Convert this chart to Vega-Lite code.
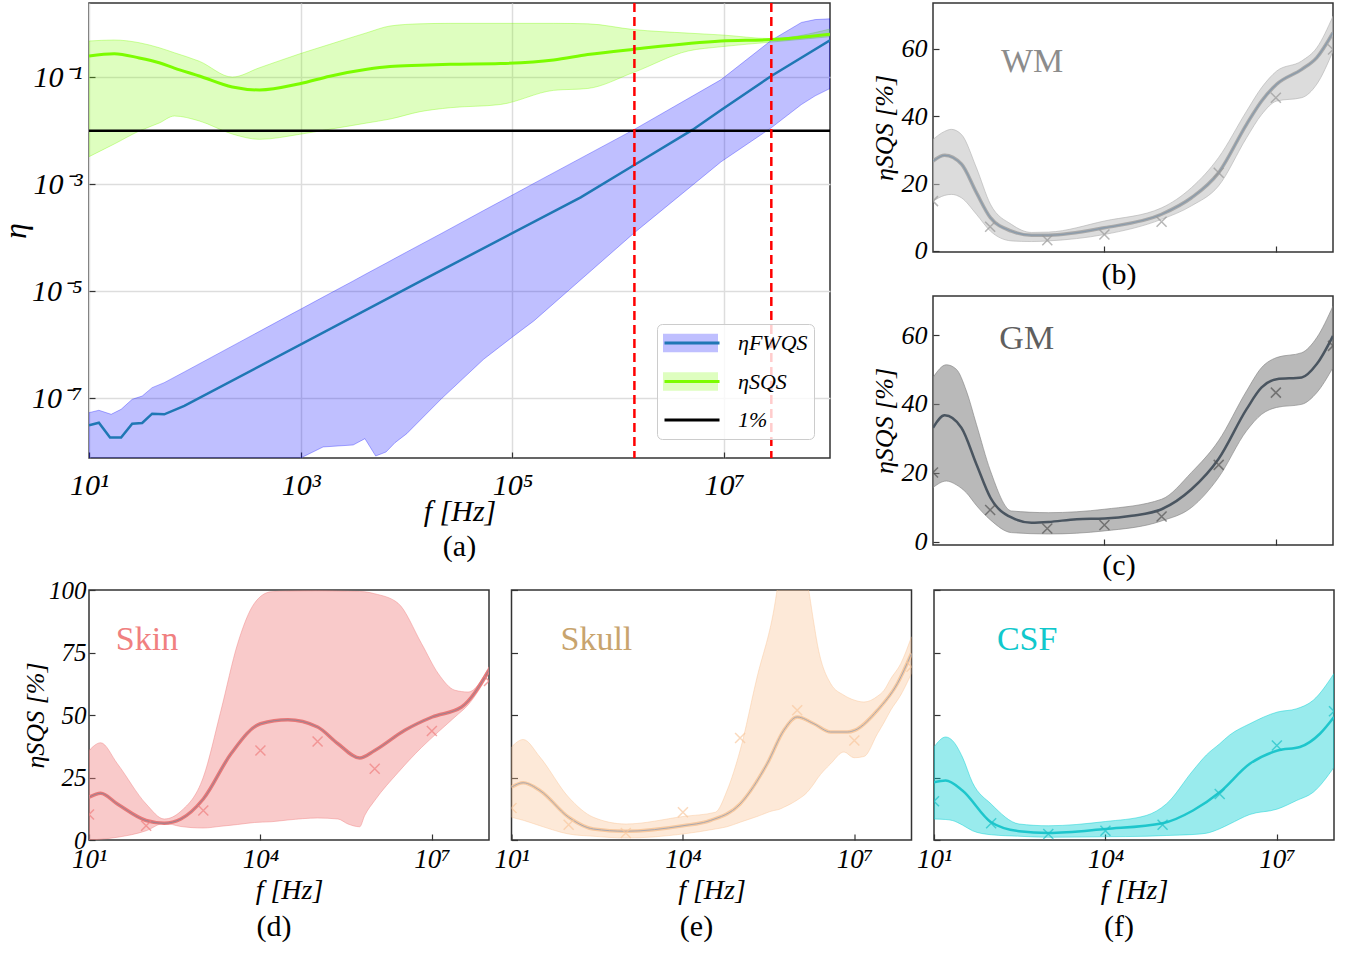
{
  "$schema": "https://vega.github.io/schema/vega-lite/v6.json",
  "padding": {"left": -2, "top": 1, "right": 5, "bottom": 5},
  "background": "white",
  "datasets": {
    "aSqsBand": [
      {"f": 10, "lo": 0.00328, "hi": 0.477}, {"f": 17.3, "lo": 0.00566, "hi": 0.498}, {"f": 29.8, "lo": 0.0099, "hi": 0.443},
      {"f": 46.1, "lo": 0.014, "hi": 0.357}, {"f": 64, "lo": 0.0189, "hi": 0.288}, {"f": 110, "lo": 0.0153, "hi": 0.2},
      {"f": 226, "lo": 0.0087, "hi": 0.101}, {"f": 408, "lo": 0.00693, "hi": 0.151}, {"f": 980, "lo": 0.0086, "hi": 0.275},
      {"f": 1884, "lo": 0.0107, "hi": 0.414}, {"f": 4227, "lo": 0.014, "hi": 0.682}, {"f": 6982, "lo": 0.0166, "hi": 0.91},
      {"f": 13430, "lo": 0.0228, "hi": 1.0}, {"f": 25820, "lo": 0.027, "hi": 1.02}, {"f": 76900, "lo": 0.031, "hi": 1.02},
      {"f": 244900, "lo": 0.057, "hi": 1.02}, {"f": 514000, "lo": 0.0618, "hi": 1.0}, {"f": 1403000, "lo": 0.124, "hi": 0.78},
      {"f": 4560000, "lo": 0.31, "hi": 0.67}, {"f": 9380000, "lo": 0.373, "hi": 0.62}, {"f": 27860000, "lo": 0.455, "hi": 0.53},
      {"f": 100000000, "lo": 0.574, "hi": 0.8}
    ],
    "aSqsMean": [
      {"f": 10, "m": 0.25}, {"f": 17.3, "m": 0.276}, {"f": 29.8, "m": 0.23}, {"f": 46.1, "m": 0.187}, {"f": 64, "m": 0.149},
      {"f": 110, "m": 0.106}, {"f": 226, "m": 0.066}, {"f": 408, "m": 0.058}, {"f": 980, "m": 0.076}, {"f": 1884, "m": 0.105},
      {"f": 4227, "m": 0.141}, {"f": 6982, "m": 0.159}, {"f": 13430, "m": 0.168}, {"f": 25820, "m": 0.175}, {"f": 76900, "m": 0.181},
      {"f": 244900, "m": 0.211}, {"f": 514000, "m": 0.266}, {"f": 1403000, "m": 0.335}, {"f": 9380000, "m": 0.478},
      {"f": 27860000, "m": 0.507}, {"f": 100000000, "m": 0.64}
    ],
    "aFwqsBand": [
      {"f": 10, "lo": 1e-9, "hi": 5.38e-8}, {"f": 12.4, "lo": 1e-9, "hi": 5.97e-8}, {"f": 16.2, "lo": 1e-9, "hi": 5.02e-8},
      {"f": 20.1, "lo": 1e-9, "hi": 6.22e-8}, {"f": 25.6, "lo": 1e-9, "hi": 9.57e-8}, {"f": 31.8, "lo": 1e-9, "hi": 1.1e-7},
      {"f": 39.5, "lo": 1e-9, "hi": 1.58e-7}, {"f": 51.4, "lo": 1e-9, "hi": 1.96e-7}, {"f": 79.5, "lo": 1e-9, "hi": 3.11e-7},
      {"f": 264, "lo": 1e-9, "hi": 1.12e-6}, {"f": 877, "lo": 6.2e-9, "hi": 4.04e-6}, {"f": 1015, "lo": 7.76e-9, "hi": 4.71e-6},
      {"f": 1627, "lo": 1.23e-8, "hi": 7.8e-6}, {"f": 3131, "lo": 1.34e-8, "hi": 1.56e-5}, {"f": 4043, "lo": 1.76e-8, "hi": 2.06e-5},
      {"f": 5105, "lo": 8.34e-9, "hi": 2.64e-5}, {"f": 6393, "lo": 9.9e-9, "hi": 3.35e-5}, {"f": 7780, "lo": 1.48e-8, "hi": 4.14e-5},
      {"f": 10040, "lo": 2.18e-8, "hi": 5.43e-5}, {"f": 21560, "lo": 1e-7, "hi": 1.22e-4}, {"f": 53460, "lo": 5.36e-7, "hi": 3.24e-4},
      {"f": 102900, "lo": 1.46e-6, "hi": 6.5e-4}, {"f": 159200, "lo": 2.79e-6, "hi": 1.04e-3}, {"f": 1403000, "lo": 1.22e-4, "hi": 0.0105},
      {"f": 9370000, "lo": 2.64e-3, "hi": 0.0906}, {"f": 27890000, "lo": 0.0114, "hi": 0.492}, {"f": 53700000, "lo": 0.031, "hi": 1.06},
      {"f": 72400000, "lo": 0.045, "hi": 1.2}, {"f": 100000000, "lo": 0.0618, "hi": 1.24}
    ],
    "aFwqsMean": [
      {"f": 10, "m": 3.13e-8}, {"f": 12.4, "m": 3.5e-8}, {"f": 15.8, "m": 1.84e-8}, {"f": 20.1, "m": 1.84e-8}, {"f": 25.6, "m": 3.35e-8},
      {"f": 31.8, "m": 3.45e-8}, {"f": 39.5, "m": 5.15e-8}, {"f": 51.4, "m": 5.02e-8}, {"f": 79.5, "m": 7.18e-8}, {"f": 13430, "m": 1.53e-5},
      {"f": 441600, "m": 5.69e-4}, {"f": 1403000, "m": 2.27e-3}, {"f": 5050000, "m": 0.0105}, {"f": 9370000, "m": 0.0245},
      {"f": 27890000, "m": 0.106}, {"f": 100000000, "m": 0.492}
    ],
    "aThreshold": [{"eta": 0.01}],
    "aCutoffs": [{"f": 1420000}, {"f": 27900000}],
    "wmBand": [
      {"f": 10, "lo": 14.8, "hi": 33.1}, {"f": 16, "lo": 16.5, "hi": 35.5}, {"f": 20.9, "lo": 16.8, "hi": 36.1}, {"f": 31.4, "lo": 15.8, "hi": 34.6},
      {"f": 57.5, "lo": 10.9, "hi": 24.7}, {"f": 101, "lo": 5.9, "hi": 13.9}, {"f": 236, "lo": 3.0, "hi": 7.9}, {"f": 530, "lo": 2.8, "hi": 5.5},
      {"f": 1054, "lo": 3.0, "hi": 5.6}, {"f": 10000, "lo": 4.9, "hi": 8.9}, {"f": 100000, "lo": 9.4, "hi": 12.8}, {"f": 333300, "lo": 13.4, "hi": 18.8},
      {"f": 992000, "lo": 19.3, "hi": 27.7}, {"f": 3073000, "lo": 33.6, "hi": 41.5}, {"f": 5635000, "lo": 40.5, "hi": 48.5},
      {"f": 10330000, "lo": 44.5, "hi": 53.4}, {"f": 28360000, "lo": 45.5, "hi": 56.4}, {"f": 52000000, "lo": 49.5, "hi": 60.3},
      {"f": 100000000, "lo": 59.3, "hi": 69.7}
    ],
    "wmMean": [
      {"f": 10, "m": 26.7}, {"f": 16, "m": 28.4}, {"f": 31.4, "m": 25.8}, {"f": 57.5, "m": 17.3}, {"f": 101, "m": 9.9}, {"f": 236, "m": 5.9},
      {"f": 530, "m": 4.7}, {"f": 1054, "m": 4.7}, {"f": 10000, "m": 6.9}, {"f": 100000, "m": 10.9}, {"f": 333300, "m": 15.8},
      {"f": 992000, "m": 23.2}, {"f": 3073000, "m": 37.6}, {"f": 5635000, "m": 44.5}, {"f": 10330000, "m": 49.5}, {"f": 28360000, "m": 53.9},
      {"f": 52000000, "m": 57.4}, {"f": 100000000, "m": 64.8}
    ],
    "wmPts": [
      {"f": 10, "v": 14.8}, {"f": 100, "v": 7.2}, {"f": 1000, "v": 3.2}, {"f": 10000, "v": 4.9}, {"f": 100000, "v": 8.7},
      {"f": 1000000, "v": 23.2}, {"f": 10000000, "v": 45.5}, {"f": 100000000, "v": 59.8}
    ],
    "gmBand": [
      {"f": 10, "lo": 15.7, "hi": 47.7}, {"f": 17.1, "lo": 17.6, "hi": 51.4}, {"f": 25.6, "lo": 16.5, "hi": 50.1}, {"f": 38.4, "lo": 14.2, "hi": 43.8},
      {"f": 57.5, "lo": 10.5, "hi": 34.1}, {"f": 101, "lo": 6.3, "hi": 20.6}, {"f": 236, "lo": 2.6, "hi": 8.9}, {"f": 1054, "lo": 2.2, "hi": 8.4},
      {"f": 10000, "lo": 3.1, "hi": 9.4}, {"f": 100000, "lo": 6.0, "hi": 12.3}, {"f": 333300, "lo": 9.9, "hi": 20.1}, {"f": 992000, "lo": 18.6, "hi": 29.3},
      {"f": 3073000, "lo": 32.2, "hi": 43.8}, {"f": 5635000, "lo": 37.0, "hi": 50.6}, {"f": 10330000, "lo": 39.0, "hi": 53.5},
      {"f": 28360000, "lo": 39.9, "hi": 54.9}, {"f": 52000000, "lo": 43.3, "hi": 59.3}, {"f": 100000000, "lo": 50.6, "hi": 68.5}
    ],
    "gmMean": [
      {"f": 10, "m": 33.1}, {"f": 16, "m": 36.7}, {"f": 31.4, "m": 33.1}, {"f": 57.5, "m": 22.5}, {"f": 101, "m": 12.8}, {"f": 236, "m": 7.0},
      {"f": 530, "m": 5.5}, {"f": 1054, "m": 5.7}, {"f": 3266, "m": 6.5}, {"f": 10000, "m": 6.7}, {"f": 30120, "m": 7.5}, {"f": 100000, "m": 9.4},
      {"f": 333300, "m": 15.2}, {"f": 992000, "m": 24.0}, {"f": 3073000, "m": 38.5}, {"f": 5635000, "m": 44.8}, {"f": 10330000, "m": 47.2},
      {"f": 28360000, "m": 47.7}, {"f": 52000000, "m": 51.6}, {"f": 100000000, "m": 59.8}
    ],
    "gmPts": [
      {"f": 10, "v": 20.1}, {"f": 100, "v": 9.2}, {"f": 1000, "v": 3.8}, {"f": 10000, "v": 4.8}, {"f": 100000, "v": 7.3},
      {"f": 1000000, "v": 22.3}, {"f": 10000000, "v": 43.3}, {"f": 100000000, "v": 56.9}
    ],
    "skinBand": [
      {"f": 10, "lo": 0, "hi": 35.8}, {"f": 16, "lo": 0.3, "hi": 38.9}, {"f": 31.4, "lo": 1.1, "hi": 30.5}, {"f": 100, "lo": 3.7, "hi": 14.4},
      {"f": 207, "lo": 6.7, "hi": 8.4}, {"f": 405, "lo": 5.4, "hi": 11.5}, {"f": 1000, "lo": 4.8, "hi": 25.1}, {"f": 2042, "lo": 5.5, "hi": 51.9},
      {"f": 4000, "lo": 6.2, "hi": 78.6}, {"f": 7850, "lo": 7.0, "hi": 94.7}, {"f": 15380, "lo": 7.3, "hi": 99.3}, {"f": 30200, "lo": 8.0, "hi": 99.6},
      {"f": 100000, "lo": 8.8, "hi": 99.7}, {"f": 227500, "lo": 8.4, "hi": 99.6}, {"f": 340600, "lo": 6.4, "hi": 99.5}, {"f": 545800, "lo": 5.3, "hi": 99.4},
      {"f": 668000, "lo": 9.8, "hi": 99.3}, {"f": 1000000, "lo": 15.8, "hi": 98.5}, {"f": 2564000, "lo": 27.0, "hi": 94.7}, {"f": 6590000, "lo": 37.0, "hi": 78.6},
      {"f": 12910000, "lo": 43.2, "hi": 66.6}, {"f": 25350000, "lo": 49.2, "hi": 59.9}, {"f": 43300000, "lo": 54.1, "hi": 59.2}, {"f": 100000000, "lo": 66.6, "hi": 69.3}
    ],
    "skinMean": [
      {"f": 10, "m": 17.1}, {"f": 16, "m": 18.7}, {"f": 31.4, "m": 14.4}, {"f": 100, "m": 7.8}, {"f": 207, "m": 6.7}, {"f": 405, "m": 8.4},
      {"f": 1000, "m": 16.4}, {"f": 3055, "m": 34.5}, {"f": 10000, "m": 46.5}, {"f": 30200, "m": 48.1}, {"f": 100000, "m": 45.2},
      {"f": 227500, "m": 38.5}, {"f": 545800, "m": 32.8}, {"f": 1000000, "m": 35.8}, {"f": 3357000, "m": 43.9}, {"f": 10140000, "m": 49.2},
      {"f": 33100000, "m": 53.2}, {"f": 100000000, "m": 67.9}
    ],
    "skinPts": [
      {"f": 10, "v": 10.2}, {"f": 100, "v": 5.7}, {"f": 1000, "v": 11.8}, {"f": 10000, "v": 35.8}, {"f": 100000, "v": 39.4},
      {"f": 1000000, "v": 28.5}, {"f": 10000000, "v": 43.6}, {"f": 100000000, "v": 63.6}
    ],
    "skullBand": [
      {"f": 10, "lo": 9.1, "hi": 37.2}, {"f": 16, "lo": 7.9, "hi": 40.2}, {"f": 31.4, "lo": 5.7, "hi": 33.2}, {"f": 100, "lo": 2.4, "hi": 17.1},
      {"f": 271, "lo": 1.5, "hi": 9.1}, {"f": 1000, "lo": 0.8, "hi": 6.4}, {"f": 10000, "lo": 2.4, "hi": 9.4}, {"f": 36900, "lo": 4.4, "hi": 11.1},
      {"f": 59200, "lo": 5.3, "hi": 19.8}, {"f": 100000, "lo": 7.1, "hi": 35.8}, {"f": 198600, "lo": 9.4, "hi": 65.2}, {"f": 389900, "lo": 11.8, "hi": 92.0},
      {"f": 476800, "lo": 12.2, "hi": 104}, {"f": 583400, "lo": 13.1, "hi": 112}, {"f": 1000000, "lo": 16.0, "hi": 112}, {"f": 1496000, "lo": 19.1, "hi": 103},
      {"f": 1960000, "lo": 22.5, "hi": 86.6}, {"f": 2243000, "lo": 24.5, "hi": 78.6}, {"f": 3845000, "lo": 30.5, "hi": 62.6}, {"f": 6590000, "lo": 35.2, "hi": 57.9},
      {"f": 9860000, "lo": 32.9, "hi": 56.0}, {"f": 14790000, "lo": 33.4, "hi": 55.2}, {"f": 25350000, "lo": 42.5, "hi": 57.5}, {"f": 33100000, "lo": 47.0, "hi": 59.9},
      {"f": 43300000, "lo": 51.9, "hi": 64.5}, {"f": 65000000, "lo": 58.0, "hi": 70.6}, {"f": 100000000, "lo": 66.6, "hi": 81.3}
    ],
    "skullMean": [
      {"f": 10, "m": 21.1}, {"f": 16, "m": 22.9}, {"f": 31.4, "m": 19.8}, {"f": 100, "m": 9.1}, {"f": 271, "m": 4.4}, {"f": 1000, "m": 3.5},
      {"f": 10000, "m": 5.7}, {"f": 30200, "m": 7.8}, {"f": 100000, "m": 14.4}, {"f": 297800, "m": 30.5}, {"f": 583400, "m": 43.9},
      {"f": 1000000, "m": 49.2}, {"f": 1960000, "m": 46.5}, {"f": 3845000, "m": 43.2}, {"f": 7540000, "m": 43.2}, {"f": 10230000, "m": 43.9},
      {"f": 25350000, "m": 51.9}, {"f": 56700000, "m": 62.6}, {"f": 100000000, "m": 74.6}
    ],
    "skullPts": [
      {"f": 10, "v": 12.8}, {"f": 100, "v": 6.1}, {"f": 1000, "v": 2.8}, {"f": 10000, "v": 11.1}, {"f": 100000, "v": 40.8},
      {"f": 1000000, "v": 51.9}, {"f": 10000000, "v": 39.8}, {"f": 100000000, "v": 69.3}
    ],
    "csfBand": [
      {"f": 10, "lo": 8.4, "hi": 37.2}, {"f": 16, "lo": 8.2, "hi": 41.2}, {"f": 21, "lo": 7.8, "hi": 39.8}, {"f": 31.4, "lo": 6.0, "hi": 33.2},
      {"f": 47.1, "lo": 3.7, "hi": 23.0}, {"f": 100, "lo": 2.1, "hi": 14.4}, {"f": 310, "lo": 1.5, "hi": 6.4}, {"f": 1000, "lo": 1.1, "hi": 5.7},
      {"f": 10000, "lo": 1.3, "hi": 7.4}, {"f": 51600, "lo": 1.5, "hi": 9.8}, {"f": 116000, "lo": 1.8, "hi": 14.4}, {"f": 340600, "lo": 2.2, "hi": 27.8},
      {"f": 583400, "lo": 2.7, "hi": 34.0}, {"f": 1000000, "lo": 4.5, "hi": 38.5}, {"f": 1496000, "lo": 6.4, "hi": 42.0}, {"f": 3357000, "lo": 10.2, "hi": 46.5},
      {"f": 10280000, "lo": 12.4, "hi": 51.2}, {"f": 22130000, "lo": 15.8, "hi": 52.5}, {"f": 43300000, "lo": 19.1, "hi": 55.9}, {"f": 100000000, "lo": 29.1, "hi": 66.6}
    ],
    "csfMean": [
      {"f": 10, "m": 23.1}, {"f": 16, "m": 23.8}, {"f": 31.4, "m": 19.8}, {"f": 100, "m": 7.1}, {"f": 310, "m": 3.5}, {"f": 1000, "m": 2.8},
      {"f": 10000, "m": 4.4}, {"f": 100000, "m": 6.7}, {"f": 340600, "m": 11.8}, {"f": 1000000, "m": 19.1}, {"f": 3357000, "m": 30.5},
      {"f": 10280000, "m": 35.8}, {"f": 25350000, "m": 37.2}, {"f": 56700000, "m": 42.5}, {"f": 100000000, "m": 49.2}
    ],
    "csfPts": [
      {"f": 10, "v": 15.5}, {"f": 100, "v": 6.7}, {"f": 1000, "v": 2.4}, {"f": 10000, "v": 3.7}, {"f": 100000, "v": 6.1},
      {"f": 1000000, "v": 18.4}, {"f": 10000000, "v": 37.8}, {"f": 100000000, "v": 51.5}
    ]
  },
  "config": {
    "font": "Liberation Serif",
    "view": {"stroke": "#333333", "strokeWidth": 1.5},
    "axis": {
      "labelFont": "Liberation Serif", "titleFont": "Liberation Serif", "labelFontStyle": "italic", "titleFontStyle": "italic",
      "titleFontWeight": "normal", "labelColor": "black", "titleColor": "black", "tickColor": "#333333", "tickSize": -6,
      "tickWidth": 1.2, "domain": false, "grid": false, "labelPadding": 10, "labelFlush": false, "labelOverlap": false, "zindex": 1
    },
    "title": {"font": "Liberation Serif", "fontSize": 30, "fontWeight": "normal", "color": "black", "orient": "bottom"}
  },
  "spacing": -5,
  "vconcat": [
    {
      "spacing": 38,
      "hconcat": [
        {
          "width": 741, "height": 455,
          "title": {"text": "(a)", "offset": 6},
          "layer": [
            {
              "data": {"name": "aSqsBand"},
              "mark": {"type": "area", "clip": true, "interpolate": "monotone", "stroke": "rgba(124,252,0,0.35)", "strokeWidth": 1},
              "encoding": {
                "x": {"field": "f", "type": "quantitative", "scale": {"type": "log", "domain": [10, 100000000], "nice": false},
                  "axis": {"values": [10, 1000, 100000, 10000000], "labelExpr": "datum.value < 100 ? '10¹' : datum.value < 10000 ? '10³' : datum.value < 1000000 ? '10⁵' : '10⁷'",
                    "grid": true, "gridColor": "#dddddd", "gridWidth": 1.5, "labelFontSize": 30, "labelPadding": 18, "title": "f [Hz]", "titleFontSize": 30, "titlePadding": -4}},
                "y": {"field": "lo", "type": "quantitative", "scale": {"type": "log", "domain": [7.65e-9, 2.45], "nice": false},
                  "axis": {"values": [1e-7, 1e-5, 0.001, 0.1], "labelExpr": "datum.value > 0.01 ? '10⁻¹' : datum.value > 0.0001 ? '10⁻³' : datum.value > 0.000001 ? '10⁻⁵' : '10⁻⁷'",
                    "grid": true, "gridColor": "#dddddd", "gridWidth": 1.5, "labelFontSize": 30, "labelPadding": 13, "title": "η", "titleFontSize": 32, "titlePadding": -1}},
                "y2": {"field": "hi"},
                "fill": {"datum": "ηSQS", "type": "nominal",
                  "scale": {"domain": ["ηFWQS", "ηSQS", "1%"], "range": ["rgba(0,0,255,0.25)", "rgba(124,252,0,0.25)", "rgba(0,0,0,0)"]},
                  "legend": {"orient": "none", "legendX": 568, "legendY": 321, "title": null, "symbolType": "M-1,-0.333H1V0.333H-1Z", "symbolSize": 3025,
                    "symbolStrokeWidth": 0, "symbolStrokeColor": "transparent", "labelFont": "Liberation Serif", "labelFontStyle": "italic", "labelFontSize": 22,
                    "labelColor": "black", "labelOffset": 20, "clipHeight": 26, "rowPadding": 12.5, "padding": 6, "strokeColor": "#cccccc",
                    "fillColor": "rgba(255,255,255,0.8)", "cornerRadius": 5, "zindex": 1,
                    "encode": {"symbols": {"update": {"stroke": {"value": "transparent"}, "strokeWidth": {"value": 0}}}}}}
              }
            },
            {
              "data": {"name": "aFwqsBand"},
              "mark": {"type": "area", "clip": true, "stroke": "rgba(0,0,255,0.3)", "strokeWidth": 1},
              "encoding": {
                "x": {"field": "f", "type": "quantitative"},
                "y": {"field": "lo", "type": "quantitative"},
                "y2": {"field": "hi"},
                "fill": {"datum": "ηFWQS", "type": "nominal"}
              }
            },
            {
              "data": {"name": "aFwqsMean"},
              "mark": {"type": "line", "clip": true, "strokeWidth": 2.5},
              "encoding": {
                "x": {"field": "f", "type": "quantitative"},
                "y": {"field": "m", "type": "quantitative"},
                "stroke": {"datum": "ηFWQS ", "type": "nominal",
                  "scale": {"domain": ["ηFWQS ", "ηSQS ", "1% "], "range": ["#1f77b4", "#7cfc00", "black"]},
                  "legend": {"orient": "none", "legendX": 568, "legendY": 321, "title": null, "symbolType": "M-1,0H1", "symbolSize": 3025,
                    "symbolStrokeWidth": 3, "symbolFillColor": "transparent", "labelFont": "Liberation Serif", "labelFontStyle": "italic", "labelFontSize": 22,
                    "labelExpr": "''", "labelOffset": 20, "clipHeight": 26, "rowPadding": 12.5, "padding": 6, "strokeColor": "rgba(0,0,0,0)",
                    "fillColor": "rgba(0,0,0,0)", "zindex": 2}}
              }
            },
            {
              "data": {"name": "aSqsMean"},
              "mark": {"type": "line", "clip": true, "strokeWidth": 3, "interpolate": "monotone"},
              "encoding": {
                "x": {"field": "f", "type": "quantitative"},
                "y": {"field": "m", "type": "quantitative"},
                "stroke": {"datum": "ηSQS ", "type": "nominal"}
              }
            },
            {
              "data": {"name": "aThreshold"},
              "mark": {"type": "rule", "strokeWidth": 2.5},
              "encoding": {
                "y": {"field": "eta", "type": "quantitative"},
                "stroke": {"datum": "1% ", "type": "nominal"}
              }
            },
            {
              "data": {"name": "aCutoffs"},
              "mark": {"type": "rule", "color": "red", "strokeWidth": 2.5, "strokeDash": [9, 5]},
              "encoding": {"x": {"field": "f", "type": "quantitative"}}
            }
          ]
        },
        {
          "spacing": 44,
          "bounds": "flush",
          "vconcat": [
            {
              "width": 400, "height": 249,
              "title": {"text": "(b)", "dx": -14, "offset": -4},
              "layer": [
                {
                  "data": {"name": "wmBand"},
                  "mark": {"type": "area", "interpolate": "monotone", "fill": "#c0c0c0", "fillOpacity": 0.55, "stroke": "#b0b0b0", "strokeOpacity": 0.6, "strokeWidth": 1, "clip": true},
                  "encoding": {
                    "x": {"field": "f", "type": "quantitative", "scale": {"type": "log", "domain": [10, 100000000], "nice": false},
                      "axis": {"values": [10000, 10000000], "labels": false, "title": null}},
                    "y": {"field": "lo", "type": "quantitative", "scale": {"domain": [-0.3, 73.6], "nice": false, "zero": false},
                      "axis": {"values": [0, 20, 40, 60], "labelFontSize": 26, "labelPadding": 12, "title": "ηSQS [%]", "titleFontSize": 26, "titlePadding": 4}},
                    "y2": {"field": "hi"}
                  }
                },
                {
                  "data": {"name": "wmMean"},
                  "mark": {"type": "line", "interpolate": "monotone", "color": "#a9a9a9", "strokeWidth": 3.5, "clip": true},
                  "encoding": {"x": {"field": "f", "type": "quantitative"}, "y": {"field": "m", "type": "quantitative"}}
                },
                {
                  "data": {"name": "wmMean"},
                  "mark": {"type": "line", "interpolate": "monotone", "color": "#8a9bab", "strokeWidth": 1.3, "clip": true},
                  "encoding": {"x": {"field": "f", "type": "quantitative"}, "y": {"field": "m", "type": "quantitative"}}
                },
                {
                  "data": {"name": "wmPts"},
                  "mark": {"type": "point", "shape": "M-1,-1L1,1M-1,1L1,-1", "filled": false, "size": 100, "strokeWidth": 1.5, "color": "#999999", "clip": true},
                  "encoding": {"x": {"field": "f", "type": "quantitative"}, "y": {"field": "v", "type": "quantitative"}}
                },
                {
                  "data": {"values": [{"tissue": "WM"}]},
                  "mark": {"type": "text", "font": "Liberation Serif", "fontSize": 34, "color": "#8c8c8c", "align": "left", "baseline": "middle"},
                  "encoding": {"x": {"datum": 155}, "y": {"datum": 56}, "text": {"field": "tissue"}}
                }
              ]
            },
            {
              "width": 400, "height": 249,
              "title": {"text": "(c)", "dx": -14, "offset": -4},
              "layer": [
                {
                  "data": {"name": "gmBand"},
                  "mark": {"type": "area", "interpolate": "monotone", "fill": "#808080", "fillOpacity": 0.55, "stroke": "#808080", "strokeOpacity": 0.6, "strokeWidth": 1, "clip": true},
                  "encoding": {
                    "x": {"field": "f", "type": "quantitative", "scale": {"type": "log", "domain": [10, 100000000], "nice": false},
                      "axis": {"values": [10000, 10000000], "labels": false, "title": null}},
                    "y": {"field": "lo", "type": "quantitative", "scale": {"domain": [-1, 71.4], "nice": false, "zero": false},
                      "axis": {"values": [0, 20, 40, 60], "labelFontSize": 26, "labelPadding": 12, "title": "ηSQS [%]", "titleFontSize": 26, "titlePadding": 4}},
                    "y2": {"field": "hi"}
                  }
                },
                {
                  "data": {"name": "gmMean"},
                  "mark": {"type": "line", "interpolate": "monotone", "color": "#4a5560", "strokeWidth": 2.5, "clip": true},
                  "encoding": {"x": {"field": "f", "type": "quantitative"}, "y": {"field": "m", "type": "quantitative"}}
                },
                {
                  "data": {"name": "gmPts"},
                  "mark": {"type": "point", "shape": "M-1,-1L1,1M-1,1L1,-1", "filled": false, "size": 100, "strokeWidth": 1.5, "color": "#555555", "clip": true},
                  "encoding": {"x": {"field": "f", "type": "quantitative"}, "y": {"field": "v", "type": "quantitative"}}
                },
                {
                  "data": {"values": [{"tissue": "GM"}]},
                  "mark": {"type": "text", "font": "Liberation Serif", "fontSize": 34, "color": "#5f5f5f", "align": "left", "baseline": "middle"},
                  "encoding": {"x": {"datum": 145}, "y": {"datum": 59}, "text": {"field": "tissue"}}
                }
              ]
            }
          ]
        }
      ]
    },
    {
      "spacing": 22.5,
      "bounds": "flush",
      "hconcat": [
        {
          "width": 400, "height": 250,
          "title": {"text": "(d)", "dx": -15, "offset": 8},
          "layer": [
            {
              "data": {"name": "skinBand"},
              "mark": {"type": "area", "interpolate": "monotone", "fill": "#f08080", "fillOpacity": 0.42, "stroke": "#f08080", "strokeOpacity": 0.45, "strokeWidth": 1, "clip": true},
              "encoding": {
                "x": {"field": "f", "type": "quantitative", "scale": {"type": "log", "domain": [10, 100000000], "nice": false},
                  "axis": {"values": [10, 10000, 10000000], "labelExpr": "datum.value < 100 ? '10¹' : datum.value < 100000 ? '10⁴' : '10⁷'", "labelFontSize": 27, "labelPadding": 12, "title": "f [Hz]", "titleFontSize": 28, "titlePadding": 4}},
                "y": {"field": "lo", "type": "quantitative", "scale": {"domain": [0, 100], "nice": false},
                  "axis": {"values": [0, 25, 50, 75, 100], "labelFontSize": 25, "labelPadding": 9, "title": "ηSQS [%]", "titleFontSize": 26, "titlePadding": 0}},
                "y2": {"field": "hi"}
              }
            },
            {
              "data": {"name": "skinMean"},
              "mark": {"type": "line", "interpolate": "monotone", "color": "#e87878", "strokeWidth": 3.5, "clip": true},
              "encoding": {"x": {"field": "f", "type": "quantitative"}, "y": {"field": "m", "type": "quantitative"}}
            },
            {
              "data": {"name": "skinMean"},
              "mark": {"type": "line", "interpolate": "monotone", "color": "#9a8290", "strokeWidth": 1, "clip": true},
              "encoding": {"x": {"field": "f", "type": "quantitative"}, "y": {"field": "m", "type": "quantitative"}}
            },
            {
              "data": {"name": "skinPts"},
              "mark": {"type": "point", "shape": "M-1,-1L1,1M-1,1L1,-1", "filled": false, "size": 100, "strokeWidth": 1.5, "color": "#f08080", "clip": true},
              "encoding": {"x": {"field": "f", "type": "quantitative"}, "y": {"field": "v", "type": "quantitative"}}
            },
            {
              "data": {"values": [{"tissue": "Skin"}]},
              "mark": {"type": "text", "font": "Liberation Serif", "fontSize": 34, "color": "#f08080", "align": "left", "baseline": "middle"},
              "encoding": {"x": {"datum": 29.5}, "y": {"datum": 80}, "text": {"field": "tissue"}}
            }
          ]
        },
        {
          "width": 400, "height": 250,
          "title": {"text": "(e)", "dx": -15, "offset": 8},
          "layer": [
            {
              "data": {"name": "skullBand"},
              "mark": {"type": "area", "interpolate": "monotone", "fill": "#f9c08f", "fillOpacity": 0.35, "stroke": "#f9c08f", "strokeOpacity": 0.4, "strokeWidth": 1, "clip": true},
              "encoding": {
                "x": {"field": "f", "type": "quantitative", "scale": {"type": "log", "domain": [10, 100000000], "nice": false},
                  "axis": {"values": [10, 10000, 10000000], "labelExpr": "datum.value < 100 ? '10¹' : datum.value < 100000 ? '10⁴' : '10⁷'", "labelFontSize": 27, "labelPadding": 12, "title": "f [Hz]", "titleFontSize": 28, "titlePadding": 4}},
                "y": {"field": "lo", "type": "quantitative", "scale": {"domain": [0, 100], "nice": false},
                  "axis": {"values": [0, 25, 50, 75, 100], "labels": false, "title": null}},
                "y2": {"field": "hi"}
              }
            },
            {
              "data": {"name": "skullMean"},
              "mark": {"type": "line", "interpolate": "monotone", "color": "#f7c9a0", "strokeWidth": 3.5, "clip": true},
              "encoding": {"x": {"field": "f", "type": "quantitative"}, "y": {"field": "m", "type": "quantitative"}}
            },
            {
              "data": {"name": "skullMean"},
              "mark": {"type": "line", "interpolate": "monotone", "color": "#a8a8b0", "strokeWidth": 1, "clip": true},
              "encoding": {"x": {"field": "f", "type": "quantitative"}, "y": {"field": "m", "type": "quantitative"}}
            },
            {
              "data": {"name": "skullPts"},
              "mark": {"type": "point", "shape": "M-1,-1L1,1M-1,1L1,-1", "filled": false, "size": 100, "strokeWidth": 1.5, "color": "#f9c9a0", "clip": true},
              "encoding": {"x": {"field": "f", "type": "quantitative"}, "y": {"field": "v", "type": "quantitative"}}
            },
            {
              "data": {"values": [{"tissue": "Skull"}]},
              "mark": {"type": "text", "font": "Liberation Serif", "fontSize": 34, "color": "#c8a46e", "align": "left", "baseline": "middle"},
              "encoding": {"x": {"datum": 72}, "y": {"datum": 80}, "text": {"field": "tissue"}}
            }
          ]
        },
        {
          "width": 400, "height": 250,
          "title": {"text": "(f)", "dx": -15, "offset": 8},
          "layer": [
            {
              "data": {"name": "csfBand"},
              "mark": {"type": "area", "interpolate": "monotone", "fill": "#00ced1", "fillOpacity": 0.4, "stroke": "#00ced1", "strokeOpacity": 0.45, "strokeWidth": 1, "clip": true},
              "encoding": {
                "x": {"field": "f", "type": "quantitative", "scale": {"type": "log", "domain": [10, 100000000], "nice": false},
                  "axis": {"values": [10, 10000, 10000000], "labelExpr": "datum.value < 100 ? '10¹' : datum.value < 100000 ? '10⁴' : '10⁷'", "labelFontSize": 27, "labelPadding": 12, "title": "f [Hz]", "titleFontSize": 28, "titlePadding": 4}},
                "y": {"field": "lo", "type": "quantitative", "scale": {"domain": [0, 100], "nice": false},
                  "axis": {"values": [0, 25, 50, 75, 100], "labels": false, "title": null}},
                "y2": {"field": "hi"}
              }
            },
            {
              "data": {"name": "csfMean"},
              "mark": {"type": "line", "interpolate": "monotone", "color": "#1ec6cc", "strokeWidth": 2.5, "clip": true},
              "encoding": {"x": {"field": "f", "type": "quantitative"}, "y": {"field": "m", "type": "quantitative"}}
            },
            {
              "data": {"name": "csfPts"},
              "mark": {"type": "point", "shape": "M-1,-1L1,1M-1,1L1,-1", "filled": false, "size": 100, "strokeWidth": 1.5, "color": "#1cc3c8", "clip": true},
              "encoding": {"x": {"field": "f", "type": "quantitative"}, "y": {"field": "v", "type": "quantitative"}}
            },
            {
              "data": {"values": [{"tissue": "CSF"}]},
              "mark": {"type": "text", "font": "Liberation Serif", "fontSize": 34, "color": "#10c8cc", "align": "left", "baseline": "middle"},
              "encoding": {"x": {"datum": 126}, "y": {"datum": 80}, "text": {"field": "tissue"}}
            }
          ]
        }
      ]
    }
  ]
}
